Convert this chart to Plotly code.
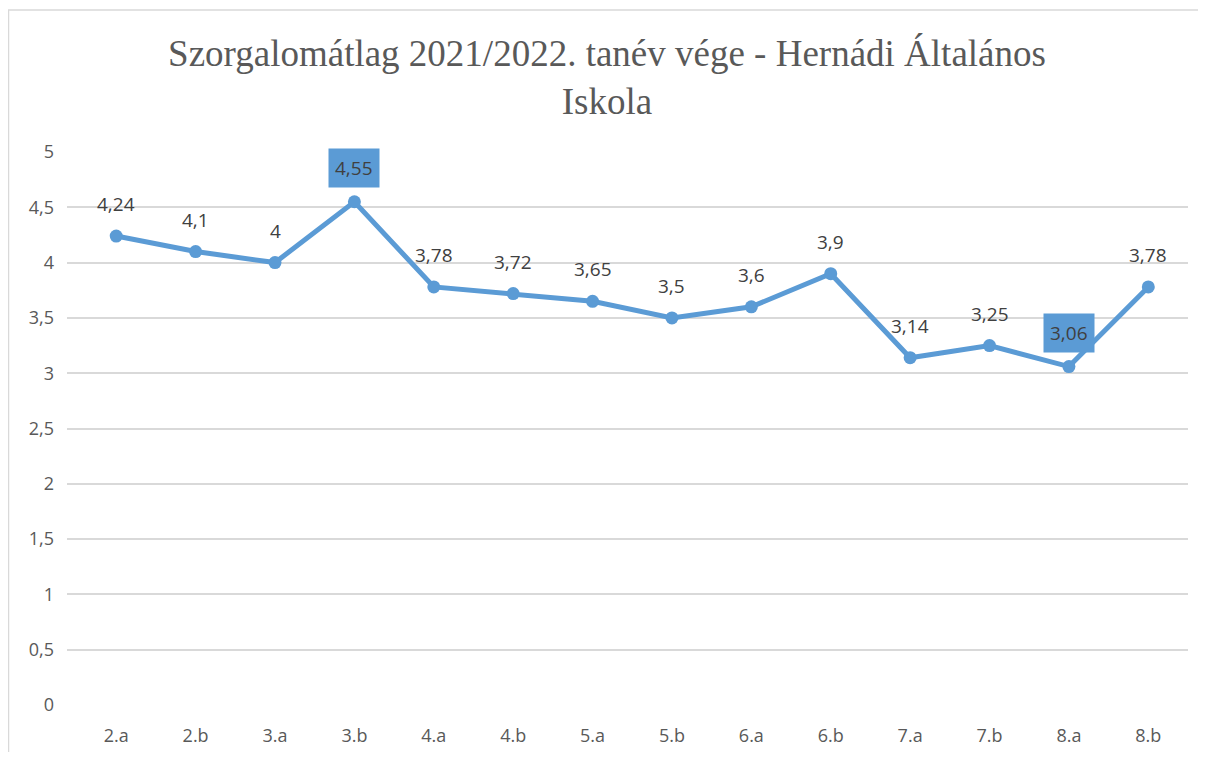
import plotly.graph_objects as go

categories = ["2.a", "2.b", "3.a", "3.b", "4.a", "4.b", "5.a", "5.b", "6.a", "6.b", "7.a", "7.b", "8.a", "8.b"]
values = [4.24, 4.1, 4.0, 4.55, 3.78, 3.72, 3.65, 3.5, 3.6, 3.9, 3.14, 3.25, 3.06, 3.78]
boxed = ["3.b", "8.a"]
title_text = "Szorgalomátlag 2021/2022. tanév vége - Hernádi Általános<br>Iskola"
ytick_vals = [0, 0.5, 1, 1.5, 2, 2.5, 3, 3.5, 4, 4.5, 5]
ytick_text = ["0", "0,5", "1", "1,5", "2", "2,5", "3", "3,5", "4", "4,5", "5"]

line_color = "#5b9bd5"
label_font = "Open Sans, Liberation Sans, sans-serif"

fig = go.Figure()
fig.add_trace(go.Scatter(
    x=list(range(len(categories))), y=values, mode="lines+markers",
    line=dict(color=line_color, width=5),
    marker=dict(size=13, color=line_color),
    hoverinfo="skip", showlegend=False,
))

def fmt(v):
    s = ("%.2f" % v).rstrip("0").rstrip(".")
    return s.replace(".", ",")

for i, (c, v) in enumerate(zip(categories, values)):
    isbox = c in boxed
    fig.add_annotation(
        x=i, y=v, xref="x", yref="y", text=fmt(v), showarrow=False,
        yshift=34 if isbox else 32,
        font=dict(family=label_font, size=19, color="#404040"),
        bgcolor=line_color if isbox else None,
        borderpad=6 if isbox else 0,
    )

# page has 8px body margin -> figure origin at screen (8, 8)
W, H = 1198, 744
L, R, T, B = 59, 18, 144, 47
pw, ph = W - L - R, H - T - B
fig.add_shape(type="rect", xref="paper", yref="paper",
              x0=(0.5 - L) / pw, x1=(1195 - L) / pw,
              y0=(H - B - 800) / ph, y1=(H - B - 2) / ph,
              line=dict(color="#d9d9d9", width=1.5), fillcolor="rgba(0,0,0,0)", layer="below")

fig.update_layout(
    width=W, height=H, autosize=False,
    margin=dict(l=L, r=R, t=T, b=B, autoexpand=False),
    paper_bgcolor="white", plot_bgcolor="white",
    title=dict(text=title_text, x=0.5, xanchor="center", y=0.922, yanchor="top",
               font=dict(family="Liberation Serif, Times New Roman, serif", size=37, color="#595959")),
    xaxis=dict(tickmode="array", tickvals=list(range(len(categories))), ticktext=categories,
               range=[-0.62, 13.5], showgrid=False, zeroline=False, showline=False,
               ticks="", ticklabelstandoff=18, automargin=False,
               tickfont=dict(family=label_font, size=18, color="#595959")),
    yaxis=dict(range=[0, 5], tickvals=ytick_vals, ticktext=ytick_text,
               showgrid=True, gridcolor="#d9d9d9", gridwidth=1.5, zeroline=False, showline=False,
               ticks="", ticklabelstandoff=12, automargin=False,
               tickfont=dict(family=label_font, size=18, color="#595959")),
)

fig.write_html("out.html")
